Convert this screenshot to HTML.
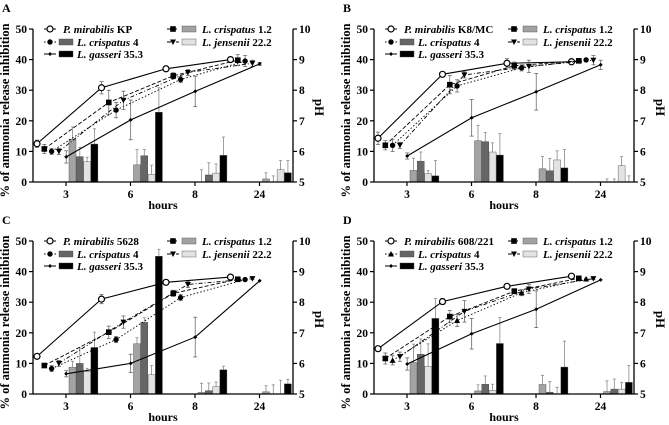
<!DOCTYPE html>
<html><head><meta charset="utf-8"><style>
body{margin:0;background:#fff;}
svg{display:block;font-family:"Liberation Serif",serif;}
</style></head><body>
<svg id="chart" width="669" height="425" viewBox="0 0 669 425" xmlns="http://www.w3.org/2000/svg"></svg>
<script>
const categories = ["3","6","8","24"];
const leftTicks = [0,10,20,30,40,50];
const rightTicks = [5,6,7,8,9,10];
const seriesNames = ["pm","c12","c4","jen","gas"];
const panelLetters = ["A","B","C","D"];
const strainNames = ["P. mirabilis KP","P. mirabilis K8/MC","P. mirabilis 5628","P. mirabilis 608/221"];
// pH series (right axis)
const phA_pm=[6.25,8.08,8.7,9.0], phA_c12=[6.08,7.6,8.47,8.98], phA_c4=[6.0,7.35,8.35,8.95], phA_jen=[6.0,7.67,8.58,8.88], phA_gas=[5.82,7.03,7.96,8.86];
const phB_pm=[6.43,8.52,8.88,8.93], phB_c12=[6.2,8.18,8.8,8.96], phB_c4=[6.2,8.14,8.73,8.99], phB_jen=[6.2,8.5,8.78,8.98], phB_gas=[5.85,7.1,7.95,8.83];
const phC_pm=[6.23,8.1,8.65,8.82], phC_c12=[5.93,7.02,8.29,8.75], phC_c4=[5.83,6.78,8.15,8.74], phC_jen=[6.0,7.35,8.58,8.77], phC_gas=[5.66,6.0,6.86,8.7];
const phD_pm=[6.48,8.02,8.52,8.85], phD_c12=[6.16,7.53,8.36,8.78], phD_c4=[6.1,7.4,8.31,8.76], phD_jen=[6.22,7.7,8.43,8.77], phD_gas=[5.98,6.97,7.77,8.73];
const phErrA=[[0.12,0.2,0.05,0.08],[0.15,0.4,0.1,0.18],[0.1,0.25,0.1,0.18],[0.1,0.3,0.1,0.1],[0.2,0.65,0.5,0.05]];
const phErrB=[[0.2,0.05,0.15,0.1],[0.15,0.3,0.12,0.05],[0.2,0.2,0.1,0.05],[0.1,0.1,0.2,0.15],[0.1,0.6,0.6,0.15]];
const phErrC=[[0.05,0.15,0.05,0.05],[0.07,0.2,0.1,0.05],[0.1,0.1,0.1,0.03],[0.1,0.2,0.1,0.03],[0.1,0.3,0.65,0]];
const phErrD=[[0.05,0.1,0.03,0.03],[0.18,0.2,0.08,0.03],[0.15,0.2,0.1,0.03],[0.15,0.35,0.15,0.03],[0.2,0.5,0.6,0]];
// bars (% inhibition, left axis) for c12, c4, jen, gas
const barA_c12=[14,5.6,0,1], barA_c4=[8.3,8.6,2.3,0], barA_jen=[6.6,2.5,2.9,4], barA_gas=[12.4,22.8,8.7,3];
const barB_c12=[3.8,13.5,4.3,0], barB_c4=[6.8,13.2,3.7,0], barB_jen=[2.7,9.8,7.2,5.3], barB_gas=[2,8.8,4.6,0];
const barC_c12=[8.7,16.4,0.5,0.7], barC_c4=[10,23.4,1.1,0], barC_jen=[7.4,6.3,2.4,0], barC_gas=[15.2,45,7.9,3.3];
const barD_c12=[10.3,1,3.1,0.8], barD_c4=[13,3.2,0.6,1.6], barD_jen=[9,1.2,0,1.6], barD_gas=[24.7,16.5,8.8,3.8];
const barErrA=[[4,5,4,2],[3,2,4,2],[1.5,3,3,3],[5,8,6,4]];
const barErrB=[[4,5,4,1],[3,3,4,1],[1,3,3,3],[5,7,6,2]];
const barErrC=[[2,2,3,2],[5,1.5,2.5,3],[1,3,1.5,4.5],[5,2.3,1.2,1.5]];
const barErrD=[[6,2,3,3.5],[5,2.7,3.5,3.3],[7.4,2,2.2,2.2],[6.5,8.5,8.5,5.5]];

const panelsPh=[[phA_pm,phA_c12,phA_c4,phA_jen,phA_gas],[phB_pm,phB_c12,phB_c4,phB_jen,phB_gas],[phC_pm,phC_c12,phC_c4,phC_jen,phC_gas],[phD_pm,phD_c12,phD_c4,phD_jen,phD_gas]];
const panelsPhErr=[phErrA,phErrB,phErrC,phErrD];
const panelsBar=[[barA_c12,barA_c4,barA_jen,barA_gas],[barB_c12,barB_c4,barB_jen,barB_gas],[barC_c12,barC_c4,barC_jen,barC_gas],[barD_c12,barD_c4,barD_jen,barD_gas]];
const panelsBarErr=[barErrA,barErrB,barErrC,barErrD];

const NS="http://www.w3.org/2000/svg";
const svg=document.getElementById('chart');
function mk(tag,attrs,parent,text){const e=document.createElementNS(NS,tag);for(const k in attrs)e.setAttribute(k,attrs[k]);if(text!==undefined)e.textContent=text;(parent||svg).appendChild(e);return e;}
const origins=[[33,0],[374,0],[33,212],[374,212]];
const barFill=["#a3a3a3","#666","#e2e2e2","#000"];
const dashes=["","4,2","1.5,2","4,2,1,2",""];

function drawMarker(g,k,x,y,panel){
  let m;
  if(k===0){m=mk('circle',{cx:x,cy:y,r:3,fill:'#fff',stroke:'#000','stroke-width':1.2},g);}
  else if(k===1){m=mk('rect',{x:x-2.8,y:y-2.8,width:5.6,height:5.6,fill:'#000'},g);}
  else if(k===2){ if(panel===3) m=mk('path',{d:`M${x},${y-3}L${x+3},${y+2.5}L${x-3},${y+2.5}Z`,fill:'#000'},g);
    else m=mk('circle',{cx:x,cy:y,r:2.7,fill:'#000'},g);}
  else if(k===3){m=mk('path',{d:`M${x-3},${y-2.5}L${x+3},${y-2.5}L${x},${y+3}Z`,fill:'#000'},g);}
  else {m=mk('path',{d:`M${x-2},${y}L${x},${y-2}L${x+2},${y}L${x},${y+2}Z`,fill:'#000'},g);}
  return m;
}

panelsPh.forEach((ph,p)=>{
  const [L,T]=origins[p];
  const top=T+29, bot=T+182, R=L+260;
  const g=mk('g',{},svg);  
  const yL=v=>bot-(v/50)*(bot-top);
  const yR=v=>bot-((v-5)/5)*(bot-top);
  const tickX=i=>L+33+i*64.5;
  const ptX=(i,k)=>tickX(i)-29+k*7.3;
  const barX=(i,k)=>tickX(i)+3+k*7.3;
  mk('text',{x:L-31,y:T+12,'font-size':12,'font-weight':'bold',},g,panelLetters[p]);
  // bars
  panelsBar[p].forEach((arr,k)=>{
    arr.forEach((v,i)=>{
      const x=barX(i,k), e=panelsBarErr[p][k][i];
      const el=mk('line',{x1:x+3.5,x2:x+3.5,y1:yL(v),y2:yL(v+e),stroke:'#888','stroke-width':0.8},g);
      
      mk('line',{x1:x+2,x2:x+5,y1:yL(v+e),y2:yL(v+e),stroke:'#888','stroke-width':0.8},g);
      if(v>0){const b=mk('rect',{x:x,y:yL(v),width:7,height:bot-yL(v),fill:barFill[k],stroke:'#444','stroke-width':0.4},g);
        }
    });
  });
  // lines
  ph.forEach((arr,k)=>{
    const d=arr.map((v,i)=>(i?'L':'M')+ptX(i,k)+','+yR(v)).join('');
    const ln=mk('path',{d:d,fill:'none',stroke:'#000','stroke-width':k===0||k===4?1.1:0.9,'stroke-dasharray':dashes[k]},g);
    
    arr.forEach((v,i)=>{
      const x=ptX(i,k), e=panelsPhErr[p][k][i];
      if(e>0){mk('line',{x1:x,x2:x,y1:yR(v-e),y2:yR(v+e),stroke:'#555','stroke-width':0.7},g);
        mk('line',{x1:x-2,x2:x+2,y1:yR(v+e),y2:yR(v+e),stroke:'#555','stroke-width':0.7},g);
        mk('line',{x1:x-2,x2:x+2,y1:yR(v-e),y2:yR(v-e),stroke:'#555','stroke-width':0.7},g);}
      const m=drawMarker(g,k,x,yR(v),p);
      
    });
  });
  // axes
  mk('line',{x1:L,x2:L,y1:top,y2:bot,stroke:'#000','stroke-width':1.3},g);
  mk('line',{x1:R,x2:R,y1:top,y2:bot,stroke:'#000','stroke-width':1.3},g);
  mk('line',{x1:L,x2:R,y1:bot,y2:bot,stroke:'#000','stroke-width':1.3},g);
  leftTicks.forEach(t=>{mk('line',{x1:L-4,x2:L,y1:yL(t),y2:yL(t),stroke:'#000','stroke-width':1.2},g);
    const tx=mk('text',{x:L-6,y:yL(t)+4,'font-size':11.5,'font-weight':'bold','text-anchor':'end'},g,String(t));});
  rightTicks.forEach(t=>{mk('line',{x1:R,x2:R+4,y1:yR(t),y2:yR(t),stroke:'#000','stroke-width':1.2},g);
    const tx=mk('text',{x:R+6,y:yR(t)+4,'font-size':11.5,'font-weight':'bold'},g,String(t));});
  categories.forEach((c,i)=>{mk('line',{x1:tickX(i),x2:tickX(i),y1:bot,y2:bot+4,stroke:'#000','stroke-width':1.2},g);
    const tx=mk('text',{x:tickX(i),y:bot+16,'font-size':11.5,'font-weight':'bold','text-anchor':'middle'},g,c);});
  mk('text',{x:L+130,y:T+209,'font-size':12,'font-weight':'bold','text-anchor':'middle',},g,'hours');
  mk('text',{x:0,y:0,'font-size':12.5,'font-weight':'bold','text-anchor':'middle',transform:`translate(${L-24},${(top+bot)/2+5}) rotate(-90)`,},g,'% of ammonia release inhibition');
  mk('text',{x:0,y:0,'font-size':13,'font-weight':'bold','text-anchor':'middle',transform:`translate(${R+22},${(top+bot)/2+2}) rotate(90)`,},g,'pH');
  // legend
  const lg=mk('g',{},g);
  const rows=[[0,null,strainNames[p],L+12,T+29,L+30],[2,1,'L. crispatus 4',L+12,T+42,L+44],[4,3,'L. gasseri 35.3',L+12,T+54,L+44],[1,0,'L. crispatus 1.2',L+135,T+29,L+169],[3,2,'L. jensenii 22.2',L+135,T+42,L+169]];
  rows.forEach(r=>{
    const [k,b,label,x,y,tx]=r;
    const e=mk('g',{},lg);
    mk('line',{x1:x-1,x2:x+11,y1:y,y2:y,stroke:'#000','stroke-width':1,'stroke-dasharray':dashes[k]},e);
    drawMarker(e,k,x+5,y,p);
    if(b!==null) mk('rect',{x:x+14,y:y-3,width:14,height:6,fill:barFill[b],stroke:'#444','stroke-width':0.4},e);
    const parts=label.split(' ');const last=parts.pop();
    const t=mk('text',{x:tx,y:y+4,'font-size':11,'font-weight':'bold'},e);
    mk('tspan',{'font-style':'italic'},t,parts.join(' ')+' ');
    mk('tspan',{},t,last);
  });
});
</script>
</body></html>
